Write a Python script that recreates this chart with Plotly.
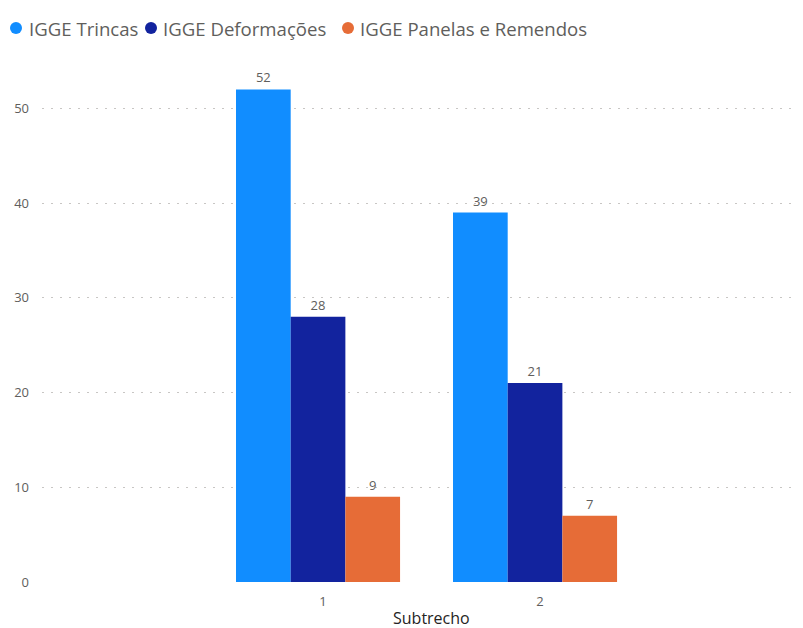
import plotly.graph_objects as go

categories = ["1", "2"]
series_names = ["IGGE Trincas", "IGGE Deformações", "IGGE Panelas e Remendos"]
trincas = [52, 39]
deformacoes = [28, 21]
panelas = [9, 7]
colors = ["#118DFF", "#12239E", "#E66C37"]
y_ticks = [0, 10, 20, 30, 40, 50]
x_title = "Subtrecho"

FONT = "Open Sans"
# page body has an 8px margin; figure is sized to compensate
W, H = 795, 620
ML, MR, MT, MB = 34, 3, 53, 46
PW, PH = W - ML - MR, H - MT - MB


def px(page_x):
    return (page_x - 8 - ML) / PW


def py(page_y):
    return (H - MB - (page_y - 8)) / PH


fig = go.Figure()
for name, vals, col in zip(series_names, [trincas, deformacoes, panelas], colors):
    fig.add_trace(go.Bar(
        x=categories, y=vals, name=name, marker_color=col,
        marker_line_width=0,
        text=[str(v) for v in vals], textposition="outside",
        textfont=dict(family=FONT, size=13, color="#605E5C"),
        cliponaxis=False, showlegend=False,
    ))

# custom legend (circle markers like the original)
legend_pos = [(16, 27), (151, 161), (348, 358)]
for (cx, tx), name, col in zip(legend_pos, series_names, colors):
    fig.add_shape(type="circle", xref="paper", yref="paper",
                  x0=px(cx - 6), x1=px(cx + 6), y0=py(34), y1=py(22),
                  fillcolor=col, line_width=0)
    fig.add_annotation(text=name, xref="paper", yref="paper",
                       x=px(tx), y=py(28), xanchor="left", yanchor="middle",
                       showarrow=False,
                       font=dict(family=FONT, size=18.6, color="#605E5C"))

# x-axis title
fig.add_annotation(text=x_title, xref="paper", yref="paper",
                   x=px(431), y=py(618), xanchor="center", yanchor="middle",
                   showarrow=False,
                   font=dict(family=FONT, size=16, color="#252423"))

fig.update_layout(
    width=W, height=H,
    margin=dict(l=ML, r=MR, t=MT, b=MB),
    paper_bgcolor="white", plot_bgcolor="white",
    barmode="group", bargap=0.244, bargroupgap=0,
    font=dict(family=FONT, color="#605E5C"),
    xaxis=dict(
        type="category", range=[-1.272, 2.221], showgrid=False, showline=False,
        ticks="", tickfont=dict(size=13, color="#605E5C"),
        ticklabelstandoff=10, ticklabelshift=5, automargin=False,
    ),
    yaxis=dict(
        range=[0, 55], tickvals=y_ticks, showgrid=True, gridcolor="#C8C6C4",
        griddash="2px,7px", gridwidth=1, zeroline=False, showline=False,
        tickfont=dict(size=13, color="#605E5C"), ticklabelstandoff=12,
        automargin=False,
    ),
)

fig.write_html("out.html")
